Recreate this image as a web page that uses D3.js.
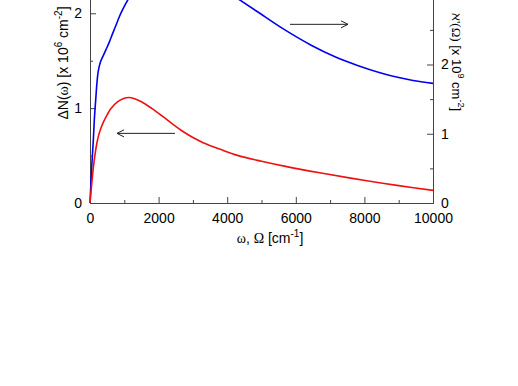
<!DOCTYPE html>
<html>
<head>
<meta charset="utf-8">
<script src="https://cdn.jsdelivr.net/npm/d3@7"></script>
<style>
  body { margin: 0; background: #fff; }
  svg { display: block; font-family: "Liberation Sans", Arial, sans-serif; }
</style>
</head>
<body>
<svg id="chart" width="518" height="386"></svg>
<script>
// wavenumber (cm^-1) and values
const redOmega = [0, 50, 100, 150, 200, 250, 320, 400, 500, 600, 800, 1000, 1118, 1300, 1500, 1798, 2100, 2400, 2700, 3000, 3300, 3800, 4300, 5000, 5700, 6700, 7600, 8300, 9000, 10000];
const redN = [0, 0.2, 0.38, 0.52, 0.63, 0.71, 0.79, 0.86, 0.93, 0.99, 1.065, 1.103, 1.112, 1.1, 1.068, 0.998, 0.918, 0.834, 0.756, 0.69, 0.636, 0.566, 0.502, 0.44, 0.386, 0.318, 0.262, 0.222, 0.183, 0.133];

const blueOmega = [0, 50, 97, 126, 150, 175, 200, 240, 300, 380, 466, 560, 662, 760, 855, 980, 1100, 1300, 1600, 2000, 2500, 3000, 3500, 4000, 4373, 4907, 5600, 6462, 7143, 7800, 8455, 9000, 9417, 10000];
const blueAleph = [0, 0.52, 0.91, 1.2, 1.38, 1.55, 1.72, 1.9, 2.03, 2.12, 2.215, 2.32, 2.45, 2.57, 2.69, 2.82, 2.93, 3.08, 3.22, 3.32, 3.36, 3.32, 3.2, 3.05, 2.93, 2.754, 2.525, 2.275, 2.112, 1.987, 1.882, 1.811, 1.769, 1.728];

const xTicks = [0, 2000, 4000, 6000, 8000, 10000];
const xMinor = [1000, 3000, 5000, 7000, 9000];
const leftTicks = [0, 1, 2];
const leftMinor = [0.5, 1.5, 2.5];
const rightTicks = [0, 1, 2, 3, 4];
const rightMinor = [0.5, 1.5, 2.5, 3.5];
const leftMax = 2.92;
const rightMax = 4;

// arrows in data units
const arrows = [
  { from: 2478, to: 787, y: 0.734, axis: 'left' },
  { from: 5831, to: 7522, y: 2.58, axis: 'right' }
];

const margin = { top: -74, left: 90 };
const width = 343, height = 277;

const svg = d3.select('#chart');
const chart = svg.append('g')
  .attr('transform', `translate(${margin.left}, ${margin.top})`);

const x = d3.scaleLinear().domain([0, 10000]).range([0, width]);
const yL = d3.scaleLinear().domain([0, leftMax]).range([height, 0]);
const yR = d3.scaleLinear().domain([0, rightMax]).range([height, 0]);

const axisColor = '#444';
const fmt = d3.format('d');

function styleAxis(g) {
  g.select('.domain').attr('stroke', axisColor);
  g.selectAll('.tick line').attr('stroke', axisColor);
  g.selectAll('.tick text').attr('fill', '#000').attr('font-size', 14)
    .attr('font-family', '"Liberation Sans", Arial, sans-serif');
}

// x axis
chart.append('g')
  .attr('transform', `translate(0, ${height})`)
  .call(d3.axisBottom(x).tickValues(xTicks).tickFormat(fmt).tickSizeInner(-6).tickSizeOuter(0).tickPadding(10))
  .call(styleAxis);
chart.append('g')
  .attr('transform', `translate(0, ${height})`)
  .call(d3.axisBottom(x).tickValues(xMinor).tickSizeInner(-3).tickSizeOuter(0).tickFormat(''))
  .call(styleAxis);

// left axis
chart.append('g')
  .call(d3.axisLeft(yL).tickValues(leftTicks).tickFormat(fmt).tickSizeInner(-6).tickSizeOuter(0).tickPadding(8))
  .call(styleAxis);
chart.append('g')
  .call(d3.axisLeft(yL).tickValues(leftMinor).tickSizeInner(-3).tickSizeOuter(0).tickFormat(''))
  .call(styleAxis);

// right axis
chart.append('g')
  .attr('transform', `translate(${width}, 0)`)
  .call(d3.axisRight(yR).tickValues(rightTicks).tickFormat(fmt).tickSizeInner(-6).tickSizeOuter(0).tickPadding(8))
  .call(styleAxis);
chart.append('g')
  .attr('transform', `translate(${width}, 0)`)
  .call(d3.axisRight(yR).tickValues(rightMinor).tickSizeInner(-3).tickSizeOuter(0).tickFormat(''))
  .call(styleAxis);

// top border (sits above the visible area)
chart.append('line')
  .attr('x1', 0).attr('x2', width).attr('y1', 0).attr('y2', 0)
  .attr('stroke', axisColor);

// curves
const redLine = d3.line()
  .x((d, i) => x(redOmega[i]))
  .y(d => yL(d))
  .curve(d3.curveCatmullRom.alpha(0.5));
const blueLine = d3.line()
  .x((d, i) => x(blueOmega[i]))
  .y(d => yR(d))
  .curve(d3.curveCatmullRom.alpha(0.5));

chart.append('path')
  .datum(blueAleph)
  .attr('d', blueLine)
  .attr('fill', 'none')
  .attr('stroke', '#0000ee')
  .attr('stroke-width', 1.6);

chart.append('path')
  .datum(redN)
  .attr('d', redLine)
  .attr('fill', 'none')
  .attr('stroke', '#ee1111')
  .attr('stroke-width', 1.6);

// arrows
arrows.forEach(a => {
  const yS = a.axis === 'left' ? yL : yR;
  const x0 = x(a.from), x1 = x(a.to), yy = yS(a.y);
  const dir = x1 > x0 ? 1 : -1;
  chart.append('line')
    .attr('x1', x0).attr('x2', x1).attr('y1', yy).attr('y2', yy)
    .attr('stroke', '#222').attr('stroke-width', 1);
  chart.append('path')
    .attr('d', `M${x1 - dir * 7},${yy - 3.5} L${x1},${yy} L${x1 - dir * 7},${yy + 3.5}`)
    .attr('fill', 'none').attr('stroke', '#222').attr('stroke-width', 1);
});

// axis titles
const xTitle = svg.append('text')
  .attr('x', 270).attr('y', 243)
  .attr('text-anchor', 'middle')
  .attr('font-size', 14);
xTitle.append('tspan').attr('font-family', '"Liberation Serif", serif').text('ω');
xTitle.append('tspan').text(', ');
xTitle.append('tspan').attr('font-family', '"Liberation Serif", serif').text('Ω');
xTitle.append('tspan').text(' [cm');
xTitle.append('tspan').attr('font-size', 10).attr('dy', -6).text('-1');
xTitle.append('tspan').attr('dy', 6).text(']');

const lTitle = svg.append('text')
  .attr('transform', 'translate(68, 63) rotate(-90)')
  .attr('text-anchor', 'middle')
  .attr('font-size', 14);
lTitle.append('tspan').text('ΔN(');
lTitle.append('tspan').attr('font-family', '"Liberation Serif", serif').text('ω');
lTitle.append('tspan').text(') [x 10');
lTitle.append('tspan').attr('font-size', 10).attr('dy', -6).text('6');
lTitle.append('tspan').attr('dy', 6).text(' cm');
lTitle.append('tspan').attr('font-size', 10).attr('dy', -6).text('-2');
lTitle.append('tspan').attr('dy', 6).text(']');

const rTitle = svg.append('text')
  .attr('transform', 'translate(452, 62) rotate(90)')
  .attr('text-anchor', 'middle')
  .attr('font-size', 13);
rTitle.append('tspan').attr('font-family', '"Liberation Serif", serif').text('ℵ\'(Ω)');
rTitle.append('tspan').text('  [x 10');
rTitle.append('tspan').attr('font-size', 9).attr('dy', -6).text('9');
rTitle.append('tspan').attr('dy', 6).text(' cm');
rTitle.append('tspan').attr('font-size', 9).attr('dy', -6).text('-2');
rTitle.append('tspan').attr('dy', 6).text(']');
</script>
</body>
</html>
